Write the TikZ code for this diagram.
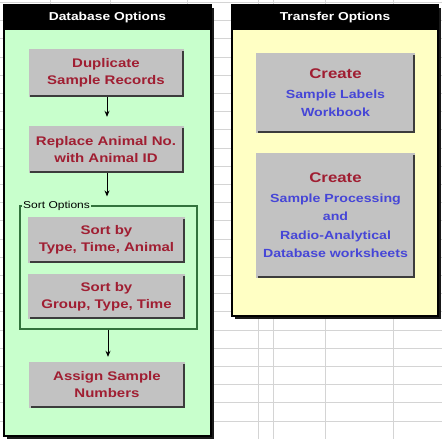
\documentclass[tikz,border=0pt]{standalone}
\usepackage{fontspec}
\setmainfont{Liberation Sans}
\newfontfamily\wfont[FakeStretch=1.2]{Liberation Sans}
\usetikzlibrary{arrows.meta}
\definecolor{gridc}{RGB}{212,212,212}
\definecolor{panelgreen}{RGB}{200,255,204}
\definecolor{panelyellow}{RGB}{255,255,196}
\definecolor{btngray}{RGB}{194,194,194}
\definecolor{btndark}{RGB}{60,60,60}
\definecolor{txtred}{RGB}{160,30,50}
\definecolor{txtblue}{RGB}{70,70,215}
\definecolor{sortgreen}{RGB}{50,115,60}
\newcommand{\bshadow}[1]{%
  \draw[line width=2pt, btndark] ([shift={(2pt,1pt)}]#1.south west) -- ([shift={(-1pt,1pt)}]#1.south east) -- ([shift={(-1pt,-2pt)}]#1.north east);}
\begin{document}
\begin{tikzpicture}[x=1pt,y=-1pt,
  btn/.style={fill=btngray, inner sep=0pt, align=center, text=txtred,
    font=\wfont\bfseries\fontsize{12.5}{17}\selectfont},
  rbtn/.style={fill=btngray, inner sep=0pt, align=center, text=txtblue,
    font=\wfont\bfseries\fontsize{11.8}{18.5}\selectfont},
  panelbox/.style={draw=black, line width=1.8pt, inner sep=0pt},
  headbar/.style={fill=black, inner sep=0pt, text=white,
    font=\wfont\bfseries\fontsize{11.5}{14}\selectfont},
  arr/.style={-{Stealth[length=6pt,width=5pt]}, line width=0.9pt, black},
  grid line/.style={gridc, line width=0.8pt}]
\useasboundingbox (0,0) rectangle (442,439);
\fill[white] (0,0) rectangle (442,439);
% spreadsheet grid
\foreach \yy in {0,...,24} {\draw[grid line] (0,2.4+18.2*\yy) -- (442,2.4+18.2*\yy);}
\foreach \xx in {50,110,187,258,273,325,393} {\draw[grid line] (\xx,0) -- (\xx,439);}
% left panel
\draw[line width=2.5pt, black!90] (213,8) -- (213,437.5) -- (7,437.5);
\node[panelbox, fill=panelgreen, minimum width=207pt, minimum height=431pt] (dbpanel) at (107.5,220.5) {};
\node[headbar, minimum width=207pt, minimum height=25pt] (dbhead) at (107.5,17.5) {Database Options};
% right panel
\draw[line width=2.5pt, black!90] (440,8) -- (440,317.5) -- (235,317.5);
\node[panelbox, fill=panelyellow, minimum width=206pt, minimum height=311pt] (trpanel) at (335,160.5) {};
\node[headbar, minimum width=206pt, minimum height=25pt] (trhead) at (335,17.5) {Transfer Options};
% sort options box
\node[draw=sortgreen, line width=1.2pt, minimum width=177pt, minimum height=123pt, inner sep=0pt] (sortbox) at (108.5,267.5) {};
\node[anchor=west, fill=panelgreen, inner sep=1pt, text=black,
  font=\wfont\fontsize{10}{12}\selectfont] (sortlabel) at (22,206) {Sort Options};
% left buttons
\node[btn, minimum width=155pt, minimum height=48pt] (dup) at (106,73) {Duplicate\\Sample Records};
\bshadow{dup}
\node[btn, minimum width=155pt, minimum height=47pt] (repl) at (106,149.5) {Replace Animal No.\\with Animal ID};
\bshadow{repl}
\node[btn, minimum width=157pt, minimum height=46pt] (sort1) at (106.5,240) {Sort by\\Type, Time, Animal};
\bshadow{sort1}
\node[btn, minimum width=157pt, minimum height=45pt] (sort2) at (106.5,296.5) {Sort by\\Group, Type, Time};
\bshadow{sort2}
\node[btn, minimum width=156pt, minimum height=46pt] (assign) at (107,385) {Assign Sample\\Numbers};
\bshadow{assign}
% arrows
\draw[arr, shorten >=9pt] ([xshift=1pt]dup.south) -- ([xshift=1pt]repl.north);
\draw[arr, shorten >=9pt] ([xshift=1pt]repl.south) -- ([xshift=1pt]repl.south |- sortbox.north);
\draw[arr, shorten >=5pt] ([xshift=1pt]assign.north |- sortbox.south) -- ([xshift=1pt]assign.north);
% right buttons
\node[rbtn, minimum width=159pt, minimum height=80pt] (labels) at (335.5,93)
  {{\color{txtred}\fontsize{14}{18}\selectfont Create}\\[1pt]Sample Labels\\Workbook};
\bshadow{labels}
\node[rbtn, minimum width=159pt, minimum height=125pt] (proc) at (335.5,215.5)
  {{\color{txtred}\fontsize{14}{18}\selectfont Create}\\[1pt]Sample Processing\\and\\Radio-Analytical\\Database worksheets};
\bshadow{proc}
\end{tikzpicture}
\end{document}
